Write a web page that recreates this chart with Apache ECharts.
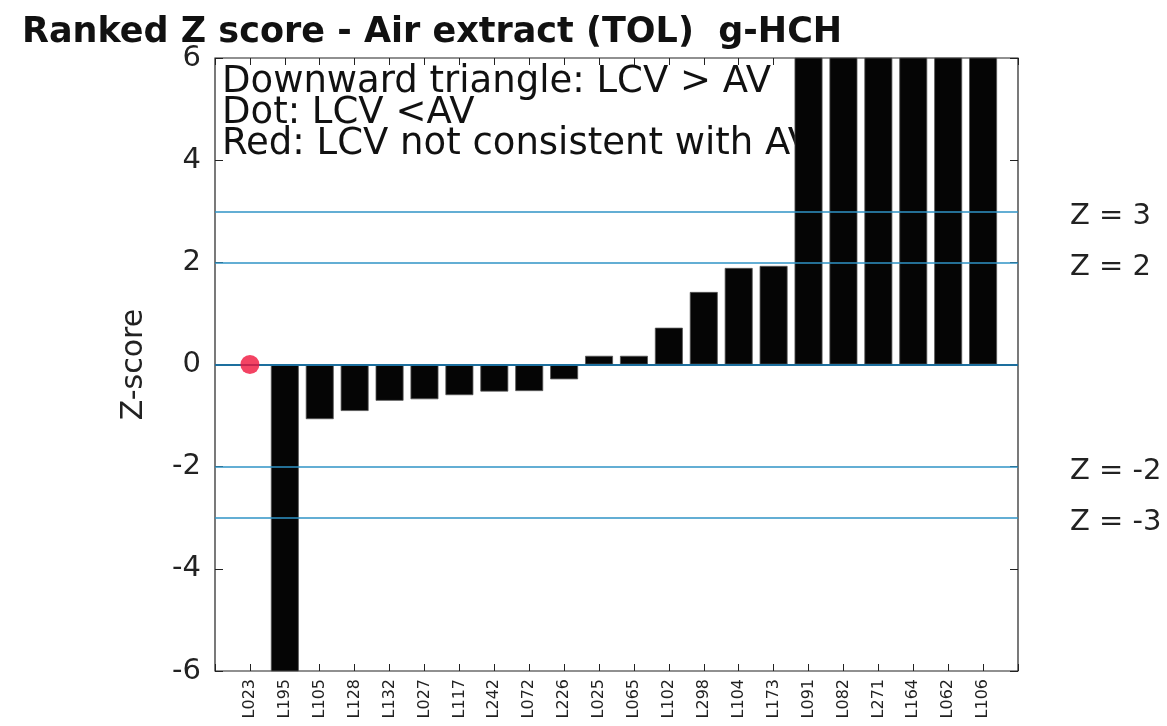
<!DOCTYPE html>
<html>
<head>
<meta charset="utf-8">
<script src="https://cdn.jsdelivr.net/npm/echarts@6/dist/echarts.min.js"></script>
<style>html,body{margin:0;padding:0;background:#fff}#c{width:1167px;height:726px}</style>
</head>
<body>
<div id="c"></div>
<script>
// Data (ranked)
var labs = ['L023','L195','L105','L128','L132','L027','L117','L242','L072','L226','L025','L065','L102','L298','L104','L173','L091','L082','L271','L164','L062','L106'];
var zScores = [null,-9.5,-1.07,-0.91,-0.71,-0.68,-0.60,-0.53,-0.52,-0.29,0.17,0.17,0.72,1.42,1.89,1.93,7.5,9.0,11.0,14.0,18.0,25.0];
var dotLab = 'L023';
var dotValue = 0.0;
var limits = [3, 2, -2, -3];
var yTicks = [-6, 6, 2];
var titleText = 'Ranked Z score - Air extract (TOL)  g-HCH';
var noteLines = ['Downward triangle: LCV > AV', 'Dot: LCV <AV', 'Red: LCV not consistent with AV'];

var cats = [''].concat(labs).concat(['']);
var barData = [null].concat(zScores).concat([null]);
var FONT = '"DejaVu Sans", Verdana, sans-serif';
var blue = '#2f93c6';

var chart = echarts.init(document.getElementById('c'), null, {renderer: 'canvas'});
var option = {
  backgroundColor: '#ffffff',
  animation: false,
  title: {
    text: titleText, left: 17, top: 10,
    textStyle: {fontFamily: FONT, fontSize: 35, fontWeight: 'bold', color: '#111'}
  },
  grid: {left: 215, right: 149, top: 58, bottom: 55, show: true, borderColor: '#222', borderWidth: 1.2, backgroundColor: 'transparent'},
  graphic: [{
    type: 'text', left: 222, top: 64, z: 0,
    style: {text: noteLines.join('\n'), fontFamily: FONT, fontSize: 37, lineHeight: 31, fill: '#111'}
  }],
  xAxis: [{
    type: 'category', data: cats, boundaryGap: false, position: 'bottom',
    axisLine: {show: false, onZero: false},
    axisTick: {show: true, inside: true, interval: 0, length: 7, lineStyle: {color: '#222'}},
    axisLabel: {interval: 0, rotate: 90, fontFamily: FONT, fontSize: 16, color: '#222', margin: 8},
    splitLine: {show: false}
  }, {
    type: 'category', data: cats, boundaryGap: false, position: 'top',
    axisLine: {show: false, onZero: false},
    axisTick: {show: true, inside: true, interval: 0, length: 7, lineStyle: {color: '#222'}},
    axisLabel: {show: false}
  }],
  yAxis: [{
    type: 'value', min: yTicks[0], max: yTicks[1], interval: yTicks[2],
    name: 'Z-score', nameLocation: 'middle', nameGap: 66,
    nameTextStyle: {fontFamily: FONT, fontSize: 30, color: '#222'},
    axisLine: {show: false, onZero: false},
    axisTick: {show: true, inside: true, length: 8, lineStyle: {color: '#222'}},
    axisLabel: {fontFamily: FONT, fontSize: 29, color: '#222', margin: 14},
    splitLine: {show: false}
  }, {
    type: 'value', min: yTicks[0], max: yTicks[1], interval: yTicks[2], position: 'right',
    axisLine: {show: false, onZero: false},
    axisTick: {show: true, inside: true, length: 8, lineStyle: {color: '#222'}},
    axisLabel: {show: false},
    splitLine: {show: false}
  }],
  series: [{
    type: 'bar', data: barData, barWidth: '80%', clip: true, z: 2,
    itemStyle: {color: '#050505', borderColor: '#555', borderWidth: 0.8},
    markLine: {
      silent: true, symbol: 'none', z: 3,
      lineStyle: {color: blue, width: 1.6, type: 'solid'},
      label: {
        show: true, position: 'end', distance: 52, offset: [0, 5],
        fontFamily: FONT, fontSize: 29, color: '#222',
        formatter: function (p) { return 'Z = ' + p.value; }
      },
      data: limits.map(function (v) { return {yAxis: v}; }).concat([{yAxis: 0, label: {show: false}, lineStyle: {color: '#1d6f9e', width: 2}}])
    }
  }, {
    type: 'scatter', data: [[dotLab, dotValue]], symbol: 'circle', symbolSize: 19, z: 5,
    itemStyle: {color: '#f0143c'}
  }]
};
chart.setOption(option);
</script>
</body>
</html>
